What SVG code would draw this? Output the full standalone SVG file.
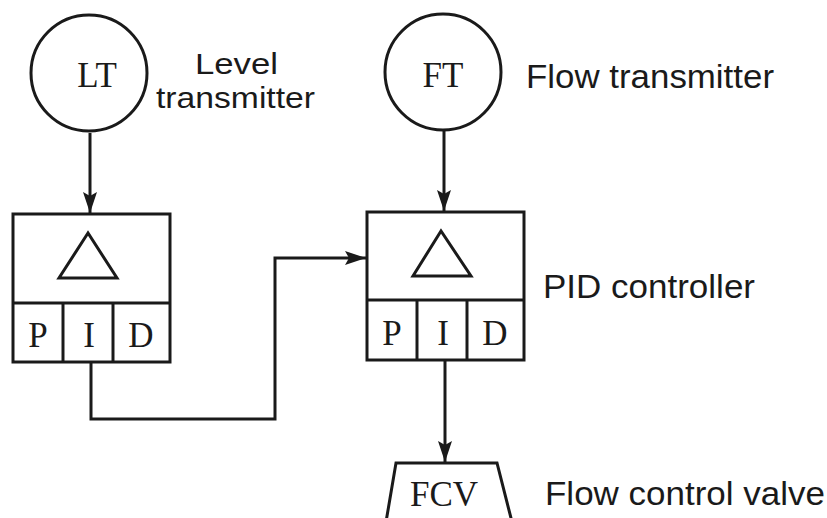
<svg xmlns="http://www.w3.org/2000/svg" width="827" height="518" viewBox="0 0 827 518">
<style>
.ln{fill:none;stroke:#1a1a1a;stroke-width:3}
.sh{fill:#fff;stroke:#1a1a1a;stroke-width:3}
.serif{font-family:"Liberation Serif","Times New Roman",serif;fill:#1a1a1a}
.sans{font-family:"Liberation Sans",Arial,sans-serif;fill:#1a1a1a}
</style>
<defs>
<marker id="ah" markerUnits="userSpaceOnUse" markerWidth="24" markerHeight="16" refX="21" refY="7" orient="auto">
<path d="M0,0 L21,7 L0,14 L4,7 Z" fill="#1a1a1a"/>
</marker>
</defs>
<rect width="827" height="518" fill="#fff"/>
<g id="connectors">
<line class="ln" x1="90" y1="133" x2="90" y2="213" marker-end="url(#ah)"/>
<line class="ln" x1="444" y1="130" x2="444" y2="211" marker-end="url(#ah)"/>
<polyline class="ln" points="91,362 91,419 275,419 275,258 366,258" marker-end="url(#ah)"/>
<line class="ln" x1="445" y1="360" x2="445" y2="462" marker-end="url(#ah)"/>
</g>
<g id="LT">
<circle class="sh" cx="89" cy="73" r="58"/>
<text class="serif" x="97" y="87" font-size="35" text-anchor="middle">LT</text>
</g>
<g id="LT-label">
<text class="sans" x="195" y="74" font-size="30" textLength="83" lengthAdjust="spacingAndGlyphs">Level</text>
<text class="sans" x="156" y="108" font-size="30" textLength="159" lengthAdjust="spacingAndGlyphs">transmitter</text>
</g>
<g id="FT">
<circle class="sh" cx="443" cy="72" r="58"/>
<text class="serif" x="443" y="87" font-size="35" text-anchor="middle">FT</text>
</g>
<g id="FT-label">
<text class="sans" x="526" y="88" font-size="33" textLength="248" lengthAdjust="spacingAndGlyphs">Flow transmitter</text>
</g>
<g id="PID-left">
<rect class="sh" x="13" y="214" width="157" height="148"/>
<line class="ln" x1="13" y1="303" x2="170" y2="303"/>
<line class="ln" x1="63" y1="303" x2="63" y2="362"/>
<line class="ln" x1="113" y1="303" x2="113" y2="362"/>
<polygon class="sh" points="88,233 59,278 117,278"/>
<text class="serif" x="38" y="347" font-size="35" text-anchor="middle">P</text>
<text class="serif" x="89" y="347" font-size="35" text-anchor="middle">I</text>
<text class="serif" x="141" y="347" font-size="35" text-anchor="middle">D</text>
</g>
<g id="PID-right">
<rect class="sh" x="367" y="212" width="157" height="148"/>
<line class="ln" x1="367" y1="300" x2="524" y2="300"/>
<line class="ln" x1="417" y1="300" x2="417" y2="360"/>
<line class="ln" x1="467" y1="300" x2="467" y2="360"/>
<polygon class="sh" points="441,231 413,276 471,276"/>
<text class="serif" x="392" y="345" font-size="35" text-anchor="middle">P</text>
<text class="serif" x="443" y="345" font-size="35" text-anchor="middle">I</text>
<text class="serif" x="495" y="345" font-size="35" text-anchor="middle">D</text>
</g>
<g id="PID-label">
<text class="sans" x="543" y="298" font-size="33" textLength="212" lengthAdjust="spacingAndGlyphs">PID controller</text>
</g>
<g id="FCV">
<polyline class="sh" points="386,522 396,463 497,463 512,522"/>
<text class="serif" x="444" y="506" font-size="35" text-anchor="middle">FCV</text>
</g>
<g id="FCV-label">
<text class="sans" x="545" y="505" font-size="34" textLength="280" lengthAdjust="spacingAndGlyphs">Flow control valve</text>
</g>
</svg>
